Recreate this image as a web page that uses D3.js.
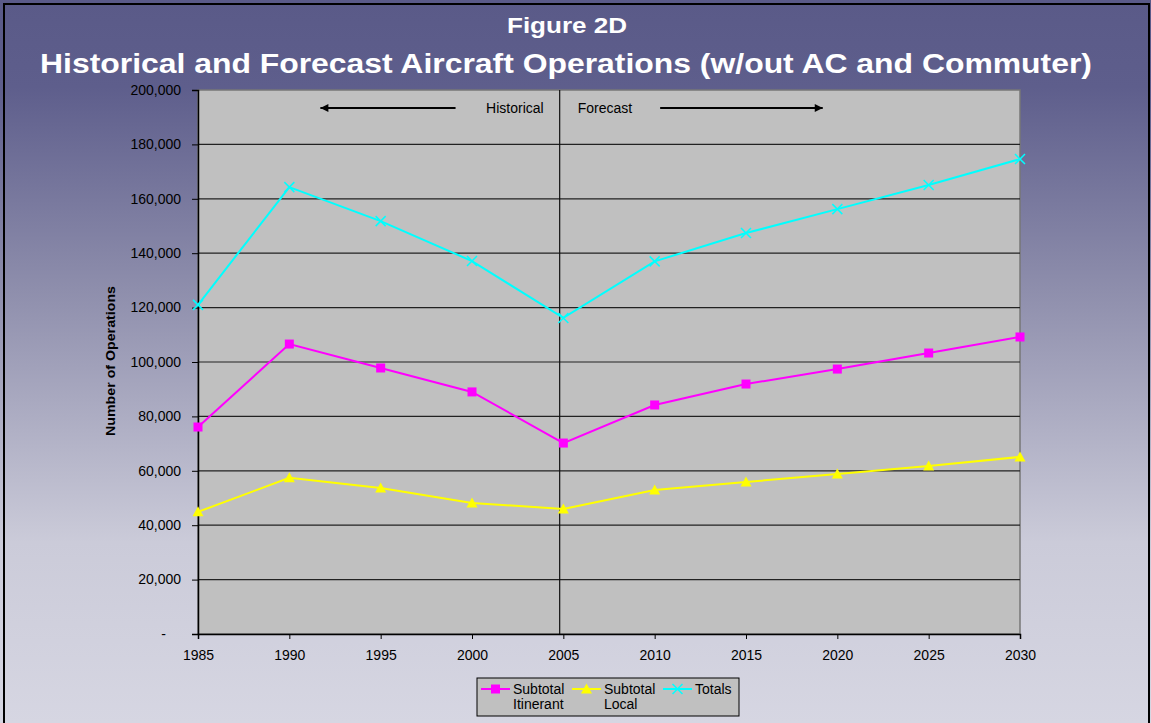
<!DOCTYPE html>
<html>
<head>
<meta charset="utf-8">
<script src="https://cdn.jsdelivr.net/npm/d3@7"></script>
<style>
  body { margin: 0; padding: 0; }
  svg { display: block; font-family: "Liberation Sans", Arial, sans-serif; }
</style>
</head>
<body>
<svg class="container"></svg>
<script>
const years = [1985, 1990, 1995, 2000, 2005, 2010, 2015, 2020, 2025, 2030];
const itinerant = [76100, 106600, 97800, 89000, 70200, 84200, 91900, 97400, 103300, 109200];
const local = [44900, 57400, 53700, 48200, 46000, 52900, 55900, 58800, 61800, 65100];
const totals = [121000, 164300, 151800, 137100, 116200, 137000, 147400, 156200, 165100, 174600];
const yTicks = [0, 20000, 40000, 60000, 80000, 100000, 120000, 140000, 160000, 180000, 200000];

const width = 1151, height = 723;
const margin = { top: 90, right: 131, bottom: 89, left: 198 };
const innerWidth = width - margin.left - margin.right;
const innerHeight = height - margin.top - margin.bottom;

const svg = d3.select(".container").attr("width", width).attr("height", height);

// background gradient
const defs = svg.append("defs");
const grad = defs.append("linearGradient").attr("id", "bg")
  .attr("x1", 0).attr("y1", 0).attr("x2", 0).attr("y2", 1);
grad.append("stop").attr("offset", "0%").attr("stop-color", "#5a5a88");
grad.append("stop").attr("offset", "12%").attr("stop-color", "#5e5e8c");
grad.append("stop").attr("offset", "40%").attr("stop-color", "#8e8eac");
grad.append("stop").attr("offset", "75%").attr("stop-color", "#cbcbd9");
grad.append("stop").attr("offset", "100%").attr("stop-color", "#d6d6e2");
svg.append("rect").attr("x", 0).attr("y", 0).attr("width", width).attr("height", height).attr("fill", "url(#bg)");
svg.append("rect").attr("x", 4).attr("y", 4).attr("width", 1145).attr("height", height + 10)
  .attr("fill", "none").attr("stroke", "black").attr("stroke-width", 2);

svg.append("text").text("Figure 2D").attr("x", 567).attr("y", 33).attr("text-anchor", "middle")
  .attr("textLength", 120).attr("lengthAdjust", "spacingAndGlyphs")
  .attr("fill", "white").attr("font-weight", "bold").attr("font-size", "22px");
svg.append("text").text("Historical and Forecast Aircraft Operations (w/out AC and Commuter)")
  .attr("x", 566).attr("y", 73).attr("text-anchor", "middle")
  .attr("textLength", 1052).attr("lengthAdjust", "spacingAndGlyphs")
  .attr("fill", "white").attr("font-weight", "bold").attr("font-size", "28.5px");

const innerChart = svg.append("g").attr("transform", `translate(${margin.left}, ${margin.top})`);

const xScale = d3.scaleLinear().domain([1985, 2030]).range([0, innerWidth]);
const yScale = d3.scaleLinear().domain([0, 200000]).range([innerHeight, 0]);

innerChart.append("rect").attr("width", innerWidth).attr("height", innerHeight)
  .attr("fill", "#c0c0c0").attr("stroke", "#777").attr("stroke-width", 1.5);

// gridlines
innerChart.selectAll(".grid").data(yTicks.filter(d => d > 0 && d < 200000)).join("line")
  .attr("class", "grid").attr("x1", 0).attr("x2", innerWidth)
  .attr("y1", d => yScale(d)).attr("y2", d => yScale(d))
  .attr("stroke", "#222").attr("stroke-width", 1.2);

// historical / forecast divider
innerChart.append("line").attr("x1", xScale(2004.8)).attr("x2", xScale(2004.8))
  .attr("y1", 0).attr("y2", innerHeight).attr("stroke", "#111").attr("stroke-width", 1.2);

const yAxis = d3.axisLeft(yScale).tickValues(yTicks).tickSize(6).tickPadding(11)
  .tickFormat(d => d === 0 ? "-" : d3.format(",")(d));
const xAxis = d3.axisBottom(xScale).tickValues(years).tickSize(5).tickPadding(11).tickFormat(d3.format("d"));

innerChart.append("g").attr("class", "y-axis").call(yAxis);
innerChart.append("g").attr("class", "x-axis").attr("transform", `translate(0, ${innerHeight})`).call(xAxis);
innerChart.selectAll(".domain").attr("stroke", "black").attr("stroke-width", 1.5);
innerChart.selectAll(".tick line").attr("stroke", "black");
innerChart.selectAll(".tick text").attr("font-size", "14px").attr("fill", "black")
  .attr("font-family", "'Liberation Sans', Arial, sans-serif");
innerChart.select(".y-axis").selectAll(".tick text").attr("dy", "0.3em")
  .filter(d => d === 0).attr("dx", -15);

svg.append("text").text("Number of Operations").attr("transform", "translate(115, 361) rotate(-90)")
  .attr("textLength", 150).attr("lengthAdjust", "spacingAndGlyphs")
  .attr("text-anchor", "middle").attr("font-weight", "bold").attr("font-size", "12.5px").attr("fill", "black");

// annotations
defs.append("marker").attr("id", "arrow").attr("viewBox", "0 0 10 10").attr("refX", 10).attr("refY", 5)
  .attr("markerWidth", 5).attr("markerHeight", 4).attr("orient", "auto-start-reverse")
  .append("path").attr("d", "M0,0 L10,5 L0,10 z").attr("fill", "black");
const annY = 18;
innerChart.append("line").attr("x1", xScale(1999.1)).attr("x2", xScale(1991.7)).attr("y1", annY).attr("y2", annY)
  .attr("stroke", "black").attr("stroke-width", 2).attr("marker-end", "url(#arrow)");
innerChart.append("line").attr("x1", xScale(2010.3)).attr("x2", xScale(2019.2)).attr("y1", annY).attr("y2", annY)
  .attr("stroke", "black").attr("stroke-width", 2).attr("marker-end", "url(#arrow)");
innerChart.append("text").text("Historical").attr("x", xScale(2004.8) - 16).attr("y", annY + 5)
  .attr("text-anchor", "end").attr("font-size", "14px").attr("fill", "black");
innerChart.append("text").text("Forecast").attr("x", xScale(2004.8) + 18).attr("y", annY + 5)
  .attr("font-size", "14px").attr("fill", "black");

const series = [
  { name: ["Subtotal", "Itinerant"], values: itinerant, color: "#ff00ff", marker: "square" },
  { name: ["Subtotal", "Local"], values: local, color: "#ffff00", marker: "triangle" },
  { name: ["Totals"], values: totals, color: "#00ffff", marker: "x" }
];

const line = d3.line().x((d, i) => xScale(years[i])).y(d => yScale(d));

function drawMarker(g, type, color) {
  if (type === "square") {
    g.append("rect").attr("x", -4.5).attr("y", -4.5).attr("width", 9).attr("height", 9).attr("fill", color);
  } else if (type === "triangle") {
    g.append("path").attr("d", "M0,-5.5 L5.5,4.5 L-5.5,4.5 Z").attr("fill", color);
  } else {
    g.append("path").attr("d", "M-5,-5 L5,5 M-5,5 L5,-5").attr("stroke", color).attr("stroke-width", 1.5);
  }
}

series.forEach(s => {
  innerChart.append("path").datum(s.values).attr("d", line).attr("fill", "none")
    .attr("stroke", s.color).attr("stroke-width", 2);
  innerChart.selectAll(null).data(s.values).join("g")
    .attr("transform", (d, i) => `translate(${xScale(years[i])}, ${yScale(d)})`)
    .each(function() { drawMarker(d3.select(this), s.marker, s.color); });
});

// legend
const legend = svg.append("g").attr("transform", "translate(477, 678)");
legend.append("rect").attr("width", 262).attr("height", 38).attr("fill", "#c0c0c0").attr("stroke", "black").attr("stroke-width", 1);
const legX = [4, 95, 186];
series.forEach((s, i) => {
  const g = legend.append("g").attr("transform", `translate(${legX[i]}, 0)`);
  g.append("line").attr("x1", 0).attr("x2", 29).attr("y1", 11).attr("y2", 11).attr("stroke", s.color).attr("stroke-width", 2);
  const m = g.append("g").attr("transform", "translate(14.5, 11)");
  drawMarker(m, s.marker, s.color);
  s.name.forEach((t, j) => {
    g.append("text").text(t).attr("x", 32).attr("y", 16 + j * 15).attr("font-size", "14px").attr("fill", "black");
  });
});
</script>
</body>
</html>
